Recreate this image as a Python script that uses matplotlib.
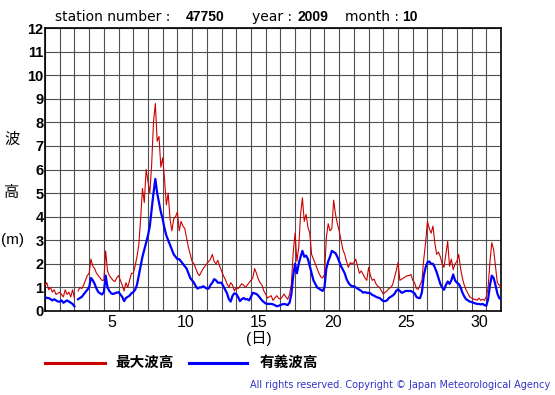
import numpy as np
import matplotlib
matplotlib.use('Agg')
from matplotlib import pyplot as plt
from matplotlib.lines import Line2D

plt.rcParams['font.family'] = ['Liberation Sans', 'Noto Sans CJK JP', 'DejaVu Sans']

nan = np.nan

# 3-hourly values, October 2009, station 47750 (one row per day)
hsig = [
    0.60, 0.55, 0.55, 0.50, 0.45, 0.50, 0.45, 0.40,   # 1
    0.40, 0.45, 0.35, 0.40, 0.45, 0.40, 0.35, 0.30,   # 2
    0.20, nan, 0.50, 0.55, 0.60, 0.70, 0.80, 0.90,    # 3
    1.00, 1.40, 1.30, 1.15, 0.95, 0.80, 0.75, 0.70,   # 4
    0.80, 1.50, 1.00, 0.85, 0.75, 0.72, 0.75, 0.78,   # 5
    0.80, 0.70, 0.60, 0.42, 0.55, 0.60, 0.65, 0.75,   # 6
    0.80, 0.90, 1.10, 1.50, 1.90, 2.30, 2.60, 2.90,   # 7
    3.20, 3.60, 4.30, 5.00, 5.60, 5.00, 4.60, 4.20,   # 8
    3.90, 3.50, 3.20, 3.00, 2.80, 2.60, 2.40, 2.30,   # 9
    2.20, 2.20, 2.10, 2.00, 1.90, 1.80, 1.60, 1.40,   # 10
    1.30, 1.20, 1.05, 0.95, 1.00, 1.00, 1.05, 1.00,   # 11
    0.95, 0.95, 1.10, 1.20, 1.35, 1.30, 1.20, 1.20,   # 12
    1.20, 1.05, 0.90, 0.75, 0.50, 0.40, 0.65, 0.75,   # 13
    0.72, 0.60, 0.42, 0.50, 0.55, 0.50, 0.50, 0.45,   # 14
    0.60, 0.77, 0.75, 0.72, 0.65, 0.55, 0.45, 0.38,   # 15
    0.32, 0.30, 0.30, 0.30, 0.28, 0.25, 0.20, 0.22,   # 16
    0.25, 0.28, 0.30, 0.28, 0.25, 0.35, 0.72, 1.50,   # 17
    2.00, 1.60, 2.00, 2.30, 2.55, 2.30, 2.35, 2.20,   # 18
    1.90, 1.60, 1.30, 1.15, 1.00, 0.95, 0.90, 0.85,   # 19
    1.00, 1.80, 2.10, 2.30, 2.55, 2.50, 2.45, 2.30,   # 20
    2.10, 1.90, 1.75, 1.60, 1.35, 1.20, 1.10, 1.05,   # 21
    1.05, 1.00, 0.95, 0.90, 0.85, 0.78, 0.80, 0.77,   # 22
    0.77, 0.75, 0.68, 0.65, 0.60, 0.57, 0.55, 0.48,   # 23
    0.42, 0.42, 0.45, 0.55, 0.60, 0.65, 0.72, 0.85,   # 24
    0.92, 0.85, 0.77, 0.80, 0.85, 0.85, 0.85, 0.85,   # 25
    0.80, 0.75, 0.60, 0.55, 0.55, 0.80, 1.50, 1.85,   # 26
    2.06, 2.10, 2.00, 2.00, 1.85, 1.65, 1.40, 1.15,   # 27
    1.00, 0.90, 1.10, 1.25, 1.15, 1.30, 1.55, 1.30,   # 28
    1.20, 1.15, 1.00, 0.78, 0.62, 0.50, 0.45, 0.40,   # 29
    0.38, 0.35, 0.32, 0.30, 0.30, 0.28, 0.30, 0.25,   # 30
    0.22, 0.50, 1.10, 1.50, 1.40, 1.10, 0.75, 0.55,   # 31
    0.50,
]

hmax = [
    1.10, 1.20, 0.90, 1.00, 0.80, 0.90, 0.70, 0.75,   # 1
    0.80, 0.70, 0.60, 0.90, 0.70, 0.80, 0.60, 0.90,   # 2
    0.55, nan, 0.85, 1.00, 0.95, 1.10, 1.30, 1.50,    # 3
    1.60, 2.20, 1.90, 1.80, 1.60, 1.50, 1.40, 1.30,   # 4
    1.30, 2.55, 1.70, 1.50, 1.40, 1.30, 1.25, 1.40,   # 5
    1.50, 1.30, 1.10, 0.85, 1.20, 1.00, 1.30, 1.60,   # 6
    1.60, 1.90, 2.30, 2.80, 3.90, 5.20, 4.60, 6.00,   # 7
    5.50, 5.00, 6.20, 8.00, 8.80, 7.20, 7.40, 6.10,   # 8
    6.50, 5.60, 4.50, 5.00, 3.90, 3.40, 3.90, 4.00,   # 9
    4.20, 3.40, 3.80, 3.60, 3.50, 3.10, 2.70, 2.40,   # 10
    2.10, 2.00, 1.80, 1.60, 1.50, 1.65, 1.80, 1.90,   # 11
    2.00, 2.10, 2.20, 2.40, 2.10, 2.00, 2.15, 1.90,   # 12
    1.70, 1.50, 1.35, 1.15, 1.00, 1.20, 1.10, 0.85,   # 13
    1.00, 0.95, 1.05, 1.15, 1.10, 1.00, 1.10, 1.20,   # 14
    1.30, 1.40, 1.80, 1.60, 1.35, 1.20, 1.10, 0.85,   # 15
    0.72, 0.55, 0.60, 0.65, 0.45, 0.55, 0.65, 0.55,   # 16
    0.50, 0.60, 0.72, 0.60, 0.50, 0.70, 1.15, 2.50,   # 17
    3.30, 2.10, 2.70, 4.10, 4.80, 3.80, 4.10, 3.55,   # 18
    3.30, 2.40, 2.20, 2.00, 1.80, 1.60, 1.45, 1.40,   # 19
    1.55, 3.10, 3.70, 3.40, 3.50, 4.70, 4.10, 3.70,   # 20
    3.40, 3.00, 2.60, 2.40, 2.10, 1.85, 2.05, 2.00,   # 21
    2.05, 2.20, 1.90, 1.60, 1.70, 1.55, 1.40, 1.30,   # 22
    1.85, 1.50, 1.30, 1.35, 1.15, 1.05, 1.00, 0.85,   # 23
    0.72, 0.80, 0.85, 0.95, 1.00, 1.10, 1.40, 1.70,   # 24
    2.05, 1.30, 1.35, 1.40, 1.45, 1.50, 1.50, 1.55,   # 25
    1.30, 1.20, 0.95, 0.92, 1.10, 1.30, 2.20, 2.90,   # 26
    3.80, 3.50, 3.30, 3.60, 2.90, 2.40, 2.50, 2.30,   # 27
    2.00, 1.85, 2.40, 2.95, 1.90, 2.20, 1.75, 2.00,   # 28
    2.10, 2.40, 1.80, 1.40, 1.10, 0.90, 0.75, 0.60,   # 29
    0.55, 0.50, 0.50, 0.45, 0.55, 0.45, 0.50, 0.45,   # 30
    0.60, 1.00, 2.10, 2.90, 2.60, 1.90, 1.20, 1.10,   # 31
    1.00,
]

day_labels = [5, 10, 15, 20, 25, 30]
y_levels = list(range(13))

# elapsed days since 1 Oct 00:00 for each 3-hour sample
t = np.arange(len(hsig)) * 3 / 24.0

W, H = 555, 395
fig = plt.figure(figsize=(W / 100, H / 100), dpi=100)
ax = fig.add_axes([45 / W, 1 - 311 / H, 456 / W, 283 / H])

ax.plot(t, hmax, color='#cc0000', lw=0.8, zorder=3)
ax.plot(t, hsig, color='#0000ff', lw=1.6, zorder=4)

ax.set_xlim(0, 31)
ax.set_ylim(0, 12)
ax.set_xticks(np.arange(32), minor=True)
ax.set_xticks([d - 0.45 for d in day_labels])
ax.set_xticklabels([str(d) for d in day_labels], fontsize=11.5)
ax.set_yticks(y_levels)
ax.set_yticklabels([str(v) for v in y_levels], fontsize=10.5, fontweight='bold')
ax.tick_params(which='both', length=0)
ax.tick_params(axis='y', pad=1)
ax.tick_params(axis='x', pad=3)
ax.grid(which='minor', axis='x', color='#505050', lw=0.8)
ax.grid(which='major', axis='y', color='#505050', lw=0.8)
ax.set_axisbelow(True)
for sp in ax.spines.values():
    sp.set_linewidth(1.2)

# title pieces
ty = 1 - 17 / H
wide = ['DejaVu Sans']
fig.text(55 / W, ty, 'station number :', fontsize=10, family=wide, va='center')
fig.text(186 / W, ty, '47750', fontsize=10, fontweight='bold', va='center')
fig.text(252 / W, ty, 'year :', fontsize=10, family=wide, va='center')
fig.text(297 / W, ty, '2009', fontsize=10, fontweight='bold', va='center')
fig.text(345 / W, ty, 'month :', fontsize=10, family=wide, va='center')
fig.text(402 / W, ty, '10', fontsize=10, fontweight='bold', va='center')

# y axis label, stacked vertically
fig.text(12 / W, 1 - 140 / H, '波', fontsize=11, ha='center', va='center')
fig.text(12 / W, 1 - 193 / H, '高', fontsize=11, ha='center', va='center')
fig.text(12 / W, 1 - 240 / H, '(m)', fontsize=11, ha='center', va='center')

fig.text(259 / W, 1 - 339 / H, '(日)', fontsize=11, ha='center', va='center')

# legend
ly = 1 - 363 / H
fig.add_artist(Line2D([45 / W, 105 / W], [ly, ly], color='#cc0000', lw=2.2))
fig.text(115 / W, ly, '最大波高', fontsize=10.5, fontweight='bold', va='center')
fig.add_artist(Line2D([189 / W, 247 / W], [ly, ly], color='#0000ff', lw=2.2))
fig.text(260 / W, ly, '有義波高', fontsize=10.5, fontweight='bold', va='center')

fig.text(550 / W, 1 - 385 / H,
         'All rights reserved. Copyright © Japan Meteorological Agency',
         fontsize=7, family=wide, color='#3333cc', ha='right', va='center')

fig.savefig('out.png', dpi=100)
